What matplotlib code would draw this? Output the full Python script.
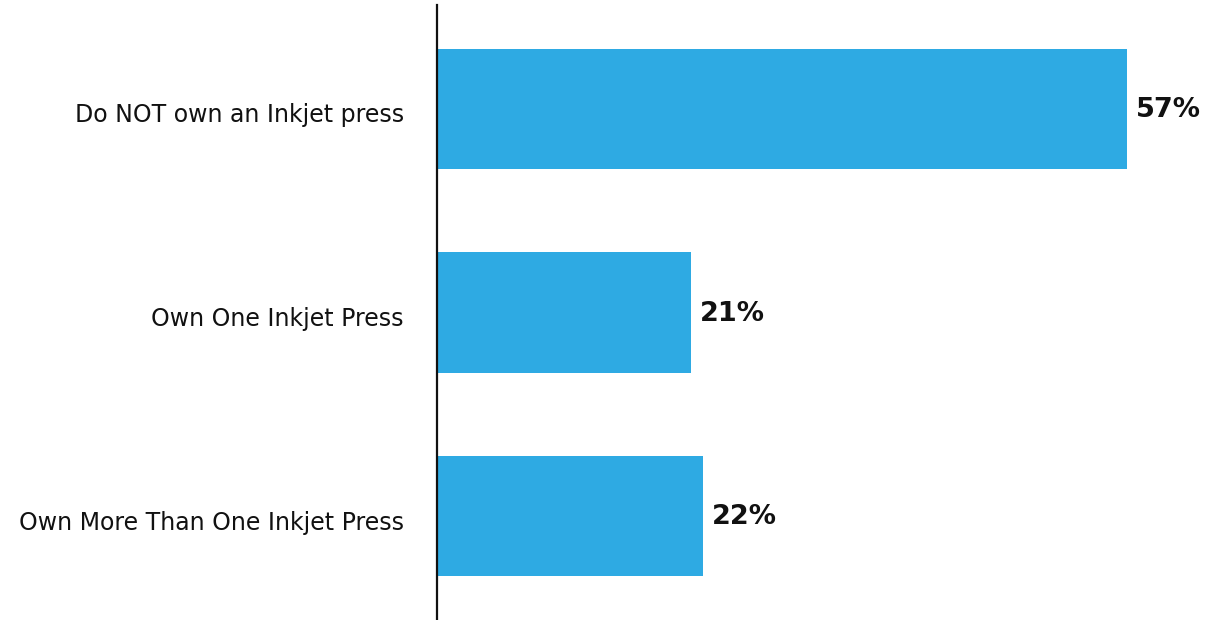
import matplotlib.pyplot as plt

categories = ["Do NOT own an Inkjet press", "Own One Inkjet Press", "Own More Than One Inkjet Press"]
values = [57, 21, 22]
value_labels = ["57%", "21%", "22%"]

plt.rcParams["font.family"] = ["DejaVu Sans"]

fig = plt.figure(figsize=(12.12, 6.2), dpi=100)
# axes spans the vertical line (x=437) to the right edge area
ax = fig.add_axes([437 / 1212, 0.0, 726 / 1212, 615 / 620])

pos = list(range(len(categories)))
ax.barh(pos, values, height=0.59, color="#2EAAE3")

for y, v, lab in zip(pos, values, value_labels):
    ax.text(v + 0.75, y + 0.005, lab, va="center", ha="left", fontsize=19.5, fontweight="bold", color="#111111")

ax.set_xlim(0, 60)
ax.set_ylim(2.51, -0.51)
ax.set_yticks([p + 0.02 for p in pos])
ax.set_yticklabels(categories, fontsize=17, color="#111111")
ax.tick_params(axis="y", length=0, pad=24)
ax.set_xticks([])

for s in ["top", "right", "bottom"]:
    ax.spines[s].set_visible(False)
ax.spines["left"].set_linewidth(1.6)
ax.spines["left"].set_color("#111111")

fig.savefig("out.png", dpi=100)
